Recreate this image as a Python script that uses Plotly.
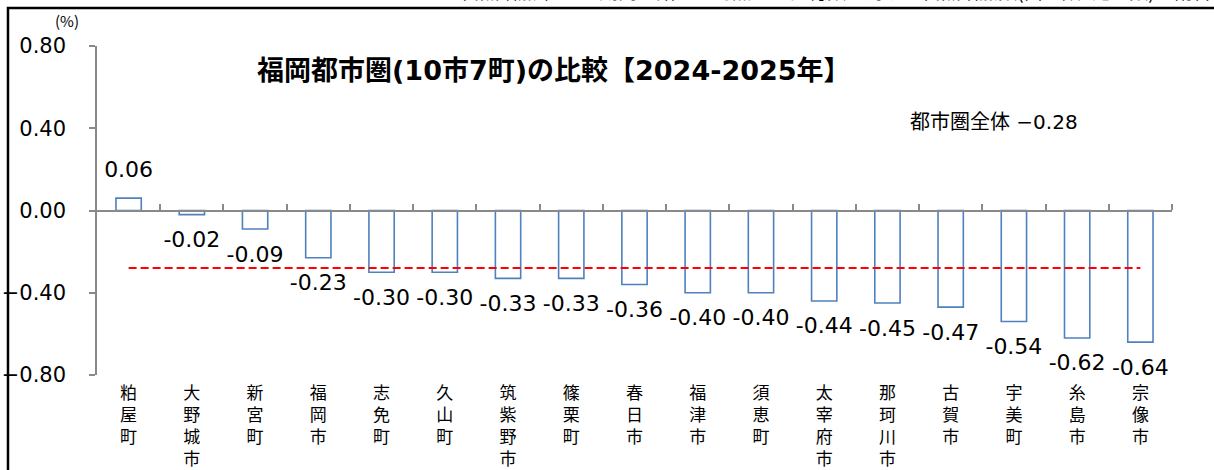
import plotly.graph_objects as go

# 自然増加率 2024-2025年 (%)
cities = ["粕屋町", "大野城市", "新宮町", "福岡市", "志免町", "久山町", "筑紫野市",
          "篠栗町", "春日市", "福津市", "須恵町", "太宰府市", "那珂川市", "古賀市",
          "宇美町", "糸島市", "宗像市"]
rates = [0.06, -0.02, -0.09, -0.23, -0.30, -0.30, -0.33, -0.33, -0.36, -0.40,
         -0.40, -0.44, -0.45, -0.47, -0.54, -0.62, -0.64]
metro_total = -0.28

title_text = "福岡都市圏(10市7町)の比較【2024-2025年】"
note_text = "自然増加率:ある期間の始めの時点の人口総数に対する自然増加数(出生数−死亡数)の割合"

FONT = "DejaVu Sans, Noto Sans CJK JP, sans-serif"
JP = "Noto Sans CJK JP, sans-serif"
GRAY = "#898989"
BLUE = "#4F81BD"

L, T, PW, PH = 97, 46, 1075, 329

# vertical (tategaki) labels
vlabels = ["<br>".join(list(c)) for c in cities]
idx = list(range(len(cities)))

fig = go.Figure()

fig.add_trace(go.Bar(
    x=idx, y=rates, width=0.4,
    marker=dict(color="white", line=dict(color=BLUE, width=1.6)),
    showlegend=False, hoverinfo="skip",
))

# average line for the whole metro area
fig.add_trace(go.Scatter(
    x=idx, y=[metro_total] * len(cities), mode="lines",
    line=dict(color="#FF0000", width=2, dash="8px,4px"),
    showlegend=False, hoverinfo="skip",
))

# data labels, pushed away from bar ends by an invisible marker
fig.add_trace(go.Scatter(
    x=idx, y=rates, mode="markers+text",
    marker=dict(size=24, opacity=0),
    text=[f"{v:.2f}" for v in rates],
    textposition=["top center" if v >= 0 else "bottom center" for v in rates],
    textfont=dict(family=FONT, size=22, color="black"),
    showlegend=False, hoverinfo="skip",
))

# category-boundary ticks on the zero line
fig.add_trace(go.Scatter(x=[], y=[], xaxis="x2", showlegend=False))

fig.update_layout(
    width=1214, height=470,
    margin=dict(l=L, r=1214 - L - PW, t=T, b=470 - T - PH, autoexpand=False),
    paper_bgcolor="white", plot_bgcolor="white",
    xaxis=dict(
        range=[-0.5, len(cities) - 0.5], automargin=False,
        tickmode="array", tickvals=idx, ticktext=vlabels,
        showline=False, ticks="", showgrid=False, zeroline=False,
        tickfont=dict(family=JP, size=17, color="black"),
        ticklabelstandoff=6,
    ),
    xaxis2=dict(
        overlaying="x", anchor="free", position=0.5, side="top",
        range=[-0.5, len(cities) - 0.5], automargin=False,
        tickmode="array", tickvals=[i + 0.5 for i in idx],
        ticks="outside", ticklen=6, tickcolor=GRAY, tickwidth=1.5,
        showticklabels=False, showline=True, linecolor=GRAY, linewidth=1.5,
        showgrid=False, zeroline=False,
    ),
    yaxis=dict(
        range=[-0.8, 0.8], dtick=0.4, tickformat=".2f", automargin=False,
        showline=True, linecolor=GRAY, linewidth=1.5,
        ticks="outside", ticklen=6, tickcolor=GRAY, tickwidth=1.5,
        showgrid=False, zeroline=False,
        tickfont=dict(family=FONT, size=21, color="black"),
        ticklabelstandoff=19,
    ),
    shapes=[
        dict(type="rect", xref="paper", yref="paper",
             x0=-0.0828, x1=1.2, y0=-0.6, y1=1.1155,
             line=dict(color="black", width=2.5), fillcolor="rgba(0,0,0,0)",
             layer="below"),
    ],
    annotations=[
        dict(text=title_text, xref="paper", yref="paper", x=0.147, y=0.927,
             xanchor="left", yanchor="middle", showarrow=False,
             font=dict(family=FONT, size=27, color="black", weight="bold")),
        dict(text="都市圏全体 −0.28", xref="paper", yref="paper", x=0.754, y=0.769,
             xanchor="left", yanchor="middle", showarrow=False,
             font=dict(family=FONT, size=20, color="black")),
        dict(text="(%)", xref="paper", yref="paper", x=-0.028, y=1.079,
             xanchor="center", yanchor="middle", showarrow=False,
             font=dict(family=JP, size=15, color="black")),
        dict(text=note_text, xref="paper", yref="paper", x=1.039, y=1.122,
             xanchor="right", yanchor="bottom", showarrow=False,
             font=dict(family=JP, size=19, color="black")),
    ],
)

# drop the browser's default body margin so the figure sits at the page corner
fig.write_html("out.html", config={"displayModeBar": False},
               post_script="document.body.style.margin='0px';")
